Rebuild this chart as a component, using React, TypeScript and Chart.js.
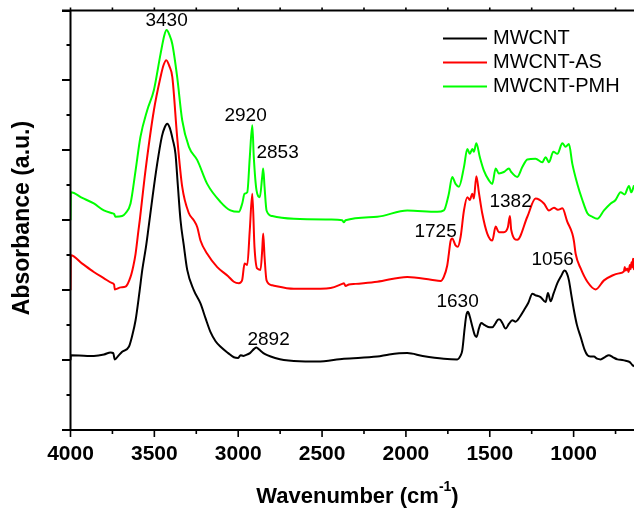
import React, { useEffect, useRef } from 'react';
import { Chart, registerables } from 'chart.js';

Chart.register(...registerables);

// ---------- data ----------
const seriesNames = ['MWCNT', 'MWCNT-AS', 'MWCNT-PMH'];
const seriesColors = ['#000000', '#ff0000', '#00ff00'];

const mwcntWavenumber = [
  4000, 3998, 3900, 3861, 3800, 3761, 3745, 3736, 3715, 3692, 3652, 3632, 3612, 3590, 3572, 3550, 3537, 3510,
  3483, 3455, 3438, 3423, 3408, 3390, 3374, 3360, 3344, 3325, 3304, 3265, 3225, 3195, 3165, 3135, 3105, 3060,
  3026, 3000, 2986, 2970, 2956, 2930, 2905, 2891, 2875, 2850, 2827, 2780, 2728, 2600, 2529, 2370, 2171, 2100,
  1992, 1900, 1774, 1694, 1675, 1664, 1650, 1640, 1630, 1620, 1604, 1590, 1579, 1565, 1551, 1530, 1500, 1485,
  1465, 1450, 1440, 1425, 1406, 1385, 1366, 1346, 1320, 1297, 1270, 1246, 1230, 1197, 1167, 1153, 1137, 1120,
  1097, 1075, 1054, 1040, 1028, 1015, 998, 980, 958, 935, 918, 900, 879, 860, 839, 815, 790, 765, 739, 710,
  690, 665, 650, 640,
];
const mwcntAbsorbance = [
  1.0, 1.07, 1.06, 1.06, 1.08, 1.11, 1.1, 1.01, 1.06, 1.12, 1.19, 1.35, 1.57, 1.95, 2.29, 2.62, 2.85, 3.35,
  3.81, 4.2, 4.33, 4.38, 4.32, 4.15, 3.95, 3.5, 3.0, 2.65, 2.29, 2.0, 1.81, 1.6, 1.4, 1.27, 1.19, 1.1,
  1.04, 1.03, 1.07, 1.06, 1.07, 1.1, 1.16, 1.18, 1.15, 1.1, 1.07, 1.03, 1.0, 0.98, 0.98, 1.02, 1.05, 1.08,
  1.1, 1.06, 1.02, 1.01, 1.06, 1.14, 1.45, 1.64, 1.69, 1.63, 1.48, 1.36, 1.33, 1.45, 1.53, 1.5, 1.47, 1.47,
  1.53, 1.58, 1.58, 1.53, 1.45, 1.52, 1.57, 1.55, 1.62, 1.71, 1.82, 1.95, 1.93, 1.9, 1.83, 1.96, 1.84, 1.95,
  2.1, 2.2, 2.28, 2.24, 2.14, 1.95, 1.71, 1.5, 1.33, 1.15, 1.07, 1.05, 1.05, 1.02, 1.01, 1.04, 1.07, 1.04, 1.01, 1.0,
  0.99, 0.97, 0.93, 0.91,
];

const mwcntAsWavenumber = [
  4000, 3998, 3930, 3861, 3800, 3751, 3740, 3736, 3700, 3672, 3642, 3625, 3612, 3595, 3587, 3553, 3503, 3463,
  3445, 3429, 3410, 3393, 3364, 3334, 3294, 3265, 3244, 3225, 3185, 3125, 3060, 3026, 2996, 2986, 2976, 2962,
  2946, 2931, 2916, 2903, 2887, 2867, 2857, 2851, 2843, 2831, 2797, 2668, 2509, 2449, 2380, 2370, 2360, 2340,
  2300, 2171, 1992, 1850, 1793, 1774, 1754, 1744, 1734, 1724, 1704, 1691, 1674, 1654, 1634, 1619, 1604, 1595,
  1580, 1565, 1545, 1515, 1485, 1465, 1446, 1416, 1392, 1380, 1372, 1336, 1276, 1227, 1177, 1147, 1117, 1094,
  1067, 1038, 1008, 998, 988, 958, 918, 869, 819, 769, 730, 700, 695, 690, 680, 672, 665, 660, 655, 650, 646,
  642, 640,
];
const mwcntAsAbsorbance = [
  2.0, 2.5, 2.38, 2.26, 2.17, 2.1, 2.08, 2.01, 2.04, 2.05, 2.19, 2.35, 2.52, 2.85, 3.0, 3.71, 4.57, 5.05,
  5.22, 5.29, 5.2, 5.05, 4.19, 3.48, 3.1, 3.0, 2.9, 2.71, 2.52, 2.33, 2.2, 2.12, 2.1, 2.11, 2.15, 2.38,
  2.36, 2.86, 3.38, 2.62, 2.31, 2.29, 2.57, 2.81, 2.48, 2.14, 2.07, 2.02, 2.02, 2.03, 2.09, 2.1, 2.06, 2.08,
  2.09, 2.12, 2.19, 2.15, 2.13, 2.19, 2.35, 2.52, 2.7, 2.74, 2.64, 2.62, 2.76, 3.14, 3.33, 3.29, 3.38, 3.31,
  3.63, 3.4, 3.1, 2.81, 2.71, 2.91, 2.83, 2.83, 2.9, 3.06, 2.86, 2.72, 3.05, 3.31, 3.24, 3.14, 3.18, 3.15,
  3.17, 2.98, 2.81, 2.7, 2.52, 2.31, 2.12, 2.01, 2.14, 2.21, 2.24, 2.27, 2.33, 2.28, 2.31, 2.26, 2.36, 2.3, 2.4, 2.33, 2.45,
  2.3, 2.46,
];

const mwcntPmhWavenumber = [
  4000, 3998, 3930, 3861, 3801, 3751, 3740, 3732, 3692, 3672, 3642, 3612, 3583, 3543, 3503, 3463, 3440, 3427,
  3410, 3393, 3364, 3334, 3294, 3244, 3185, 3105, 3046, 2996, 2976, 2962, 2946, 2931, 2916, 2907, 2891, 2871,
  2857, 2851, 2843, 2831, 2797, 2668, 2449, 2380, 2370, 2360, 2171, 1992, 1813, 1774, 1744, 1724, 1704, 1684,
  1654, 1634, 1619, 1604, 1595, 1580, 1559, 1535, 1505, 1485, 1465, 1446, 1416, 1386, 1372, 1336, 1306, 1276,
  1227, 1187, 1167, 1147, 1121, 1097, 1067, 1048, 1028, 1008, 978, 948, 918, 889, 859, 819, 779, 750, 720,
  696, 670, 656, 640,
];
const mwcntPmhAbsorbance = [
  3.0, 3.4, 3.32, 3.24, 3.14, 3.1, 3.09, 3.05, 3.06, 3.1, 3.24, 3.71, 4.19, 4.57, 4.86, 5.38, 5.65, 5.72,
  5.65, 5.52, 5.05, 4.43, 4.05, 3.86, 3.52, 3.26, 3.14, 3.12, 3.24, 3.38, 3.4, 3.9, 4.36, 3.9, 3.43, 3.33,
  3.62, 3.74, 3.48, 3.14, 3.06, 3.02, 3.01, 3.0, 2.97, 3.0, 3.05, 3.14, 3.12, 3.14, 3.38, 3.62, 3.52, 3.48,
  3.76, 4.02, 3.95, 4.02, 3.98, 4.1, 3.9, 3.71, 3.57, 3.52, 3.74, 3.67, 3.69, 3.74, 3.69, 3.62, 3.76, 3.87,
  3.88, 3.83, 3.9, 3.83, 3.98, 3.95, 4.1, 4.05, 4.09, 3.81, 3.52, 3.29, 3.1, 3.05, 3.02, 3.14, 3.24, 3.29, 3.4,
  3.37, 3.49, 3.4, 3.5,
];

const xTickValues = [4000, 3500, 3000, 2500, 2000, 1500, 1000];
const yTickValues = [0, 1, 2, 3, 4, 5, 6];

const peakLabels = ['3430', '2920', '2853', '2892', '1725', '1382', '1630', '1056'];
const peakLabelWavenumber = [3427, 2956, 2765, 2819, 1823, 1376, 1692, 1125];
const peakLabelAbsorbance = [5.86, 4.49, 3.97, 1.29, 2.84, 3.27, 1.84, 2.44];

const FONT = '"Liberation Sans", Arial, Helvetica, sans-serif';

const toPoints = (xs: number[], ys: number[]) => xs.map((x, i) => ({ x, y: ys[i] }));

const decorPlugin = {
  id: 'decor',
  afterDraw(chart: any) {
    const { ctx, chartArea, scales } = chart;
    const xs = scales.x;
    const ys = scales.y;
    const { left, right, top, bottom } = chartArea;
    ctx.save();
    ctx.strokeStyle = '#000';
    ctx.fillStyle = '#000';
    ctx.lineWidth = 2;
    ctx.lineCap = 'butt';

    // axis lines
    ctx.beginPath();
    ctx.moveTo(left, top);
    ctx.lineTo(left, bottom);
    ctx.moveTo(left - 8.5, bottom);
    ctx.lineTo(right, bottom);
    ctx.moveTo(left - 8.5, top);
    ctx.lineTo(right, top);
    ctx.stroke();

    // y ticks (major + minor), no labels
    const yMin = yTickValues[0];
    const yMax = yTickValues[yTickValues.length - 1];
    ctx.beginPath();
    for (let v = yMin; v <= yMax + 1e-9; v += 0.5) {
      const py = Math.round(ys.getPixelForValue(v));
      const major = Math.abs(v - Math.round(v)) < 1e-9;
      ctx.moveTo(left, py);
      ctx.lineTo(left - (major ? 8.5 : 4), py);
    }
    ctx.stroke();

    // x ticks
    ctx.lineWidth = 1.6;
    ctx.beginPath();
    for (let v = xTickValues[0]; v >= xs.min; v -= 250) {
      const px = xs.getPixelForValue(v);
      const major = v % 500 === 0;
      ctx.moveTo(px, bottom);
      ctx.lineTo(px, bottom + (major ? 7 : 4));
      ctx.moveTo(px, top);
      ctx.lineTo(px, top - 3);
    }
    ctx.stroke();

    // x tick labels
    ctx.font = `bold 21px ${FONT}`;
    ctx.textAlign = 'center';
    ctx.textBaseline = 'middle';
    xTickValues.forEach((v) => {
      ctx.fillText(String(v), xs.getPixelForValue(v), 454);
    });

    // x title with superscript
    const mainFont = `bold 22px ${FONT}`;
    const supFont = `bold 14px ${FONT}`;
    const t1 = 'Wavenumber (cm';
    const t2 = '-1';
    const t3 = ')';
    ctx.font = mainFont;
    const w1 = ctx.measureText(t1).width;
    const w3 = ctx.measureText(t3).width;
    ctx.font = supFont;
    const w2 = ctx.measureText(t2).width;
    const total = w1 + w2 + w3;
    let sx = 357.5 - total / 2;
    ctx.textAlign = 'left';
    ctx.textBaseline = 'alphabetic';
    ctx.font = mainFont;
    ctx.fillText(t1, sx, 503);
    sx += w1;
    ctx.font = supFont;
    ctx.fillText(t2, sx, 491);
    sx += w2;
    ctx.font = mainFont;
    ctx.fillText(t3, sx, 503);

    // y title
    ctx.save();
    ctx.translate(23, 218);
    ctx.rotate(-Math.PI / 2);
    ctx.font = `bold 23px ${FONT}`;
    ctx.textAlign = 'center';
    ctx.textBaseline = 'middle';
    ctx.fillText('Absorbance (a.u.)', 0, 0);
    ctx.restore();

    // peak labels
    ctx.font = `19px ${FONT}`;
    ctx.textAlign = 'center';
    ctx.textBaseline = 'middle';
    peakLabels.forEach((t, i) => {
      ctx.fillText(t, xs.getPixelForValue(peakLabelWavenumber[i]), ys.getPixelForValue(peakLabelAbsorbance[i]));
    });

    // legend
    ctx.font = `20px ${FONT}`;
    ctx.textAlign = 'left';
    ctx.textBaseline = 'middle';
    ctx.lineWidth = 2;
    chart.data.datasets.forEach((ds: any, i: number) => {
      const ly = 38.5 + i * 24;
      ctx.strokeStyle = ds.borderColor;
      ctx.beginPath();
      ctx.moveTo(443, ly);
      ctx.lineTo(487, ly);
      ctx.stroke();
      ctx.fillStyle = '#000';
      ctx.fillText(ds.label, 493, ly);
    });

    ctx.restore();
  },
};

export default function App() {
  const canvasRef = useRef<HTMLCanvasElement | null>(null);

  useEffect(() => {
    const canvas = canvasRef.current;
    if (!canvas) return;
    const xsList = [mwcntWavenumber, mwcntAsWavenumber, mwcntPmhWavenumber];
    const ysList = [mwcntAbsorbance, mwcntAsAbsorbance, mwcntPmhAbsorbance];
    const chart = new Chart(canvas, {
      type: 'line',
      data: {
        datasets: seriesNames.map((name, i) => ({
          label: name,
          data: toPoints(xsList[i], ysList[i]),
          borderColor: seriesColors[i],
          backgroundColor: seriesColors[i],
          borderWidth: 2,
          pointRadius: 0,
          cubicInterpolationMode: 'monotone',
          fill: false,
        })),
      },
      options: {
        animation: false,
        responsive: false,
        maintainAspectRatio: false,
        devicePixelRatio: 1,
        layout: { padding: { left: 70.5, right: 0, top: 10.5, bottom: 78 } },
        plugins: {
          legend: { display: false },
          tooltip: { enabled: false },
          title: { display: false },
        },
        scales: {
          x: {
            type: 'linear',
            reverse: true,
            min: 640,
            max: 4000,
            display: false,
          },
          y: {
            type: 'linear',
            min: 0,
            max: 6,
            display: false,
          },
        },
      },
      plugins: [decorPlugin],
    });
    return () => chart.destroy();
  }, []);

  return (
    <div style={{ position: 'fixed', left: 0, top: 0, width: 634, height: 508, background: '#fff' }}>
      <canvas ref={canvasRef} width={634} height={508} style={{ display: 'block' }} />
    </div>
  );
}
